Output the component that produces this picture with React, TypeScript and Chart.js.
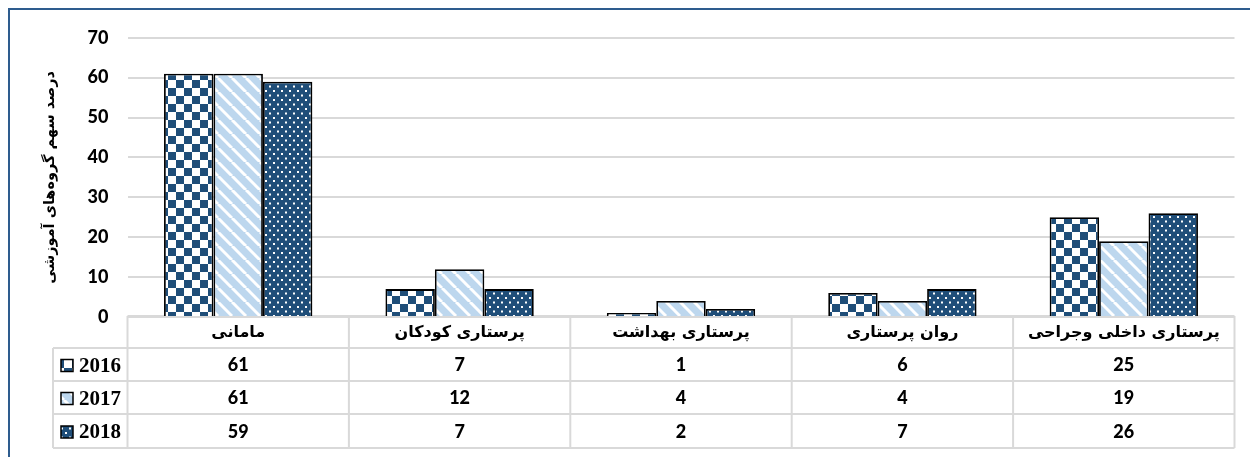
import React, { useEffect, useRef } from "react";
import { Chart, registerables } from "chart.js";

Chart.register(...registerables);

const categories = ["مامانی", "پرستاری کودکان", "پرستاری بهداشت", "روان پرستاری", "پرستاری داخلی وجراحی"];
const seriesNames = ["2016", "2017", "2018"];
const values2016 = [61, 7, 1, 6, 25];
const values2017 = [61, 12, 4, 4, 19];
const values2018 = [59, 7, 2, 7, 26];
const yTicks = [0, 10, 20, 30, 40, 50, 60, 70];
const yTitle = "درصد سهم گروه‌های آموزشی";

const NAVY = "#1F4E79";
const LIGHT = "#BDD7EE";

function makePattern(kind: string): CanvasPattern | string {
  const c = document.createElement("canvas");
  const ctx = c.getContext("2d");
  if (!ctx) return NAVY;
  if (kind === "check") {
    c.width = 16; c.height = 16;
    ctx.fillStyle = "#fff"; ctx.fillRect(0, 0, 16, 16);
    ctx.fillStyle = NAVY; ctx.fillRect(0, 0, 8, 8); ctx.fillRect(8, 8, 8, 8);
  } else if (kind === "stripe") {
    c.width = 14; c.height = 14;
    ctx.fillStyle = LIGHT; ctx.fillRect(0, 0, 14, 14);
    ctx.strokeStyle = "#fff"; ctx.lineWidth = 3;
    for (const o of [-14, 0, 14]) {
      ctx.beginPath(); ctx.moveTo(o, 0); ctx.lineTo(o + 14, 14); ctx.stroke();
    }
  } else {
    c.width = 8; c.height = 9;
    ctx.fillStyle = NAVY; ctx.fillRect(0, 0, 8, 9);
    ctx.fillStyle = "#fff"; ctx.fillRect(1, 1, 2, 2); ctx.fillRect(5, 5.5, 2, 2);
  }
  return ctx.createPattern(c, "repeat") || NAVY;
}

export default function App() {
  const ref = useRef<HTMLCanvasElement>(null);
  useEffect(() => {
    document.body.style.overflow = "hidden";
    const canvas = ref.current;
    if (!canvas) return;
    const pats = [makePattern("check"), makePattern("stripe"), makePattern("dots")];
    const seriesValues = [values2016, values2017, values2018];

    const tableTop = 308;
    const rowH = [32, 33, 33, 34];
    const legendLeft = 45;
    const gridColor = "#D9D9D9";
    const numFont = "900 18px Lato";

    const tablePlugin = {
      id: "tablePlugin",
      beforeDatasetsDraw(chart: any) {
        const ctx = chart.ctx;
        const area = chart.chartArea;
        const left = area.left, right = area.right;
        const n = categories.length;
        const w = (right - left) / n;
        const ys = [tableTop];
        rowH.forEach((h) => ys.push(ys[ys.length - 1] + h));
        ctx.save();
        ctx.strokeStyle = gridColor;
        ctx.lineWidth = 2;
        ctx.beginPath();
        ctx.moveTo(left, ys[0]); ctx.lineTo(right, ys[0]);
        for (let i = 1; i < ys.length; i++) {
          ctx.moveTo(legendLeft, ys[i]); ctx.lineTo(right, ys[i]);
        }
        for (let i = 0; i <= n; i++) {
          ctx.moveTo(left + i * w, ys[0]); ctx.lineTo(left + i * w, ys[ys.length - 1]);
        }
        ctx.moveTo(legendLeft, ys[1]); ctx.lineTo(legendLeft, ys[ys.length - 1]);
        ctx.stroke();
        ctx.restore();
      },
      afterDraw(chart: any) {
        const ctx = chart.ctx;
        const area = chart.chartArea;
        const x = chart.scales.x;
        const ys = [tableTop];
        rowH.forEach((h) => ys.push(ys[ys.length - 1] + h));
        ctx.save();
        ctx.fillStyle = "#000";
        ctx.textAlign = "center";
        ctx.textBaseline = "middle";
        ctx.font = "bold 16px 'DejaVu Sans'";
        categories.forEach((c, i) => {
          ctx.fillText(c, x.getPixelForValue(i), (ys[0] + ys[1]) / 2 + 1);
        });
        ctx.font = numFont;
        seriesValues.forEach((vals, r) => {
          const cy = (ys[r + 1] + ys[r + 2]) / 2 + 1;
          vals.forEach((v, i) => ctx.fillText(String(v), x.getPixelForValue(i), cy));
          const kx = 53, ks = 12;
          ctx.fillStyle = pats[r];
          ctx.fillRect(kx, cy - ks / 2, ks, ks);
          ctx.strokeStyle = "#000"; ctx.lineWidth = 1.5;
          ctx.strokeRect(kx, cy - ks / 2, ks, ks);
          ctx.fillStyle = "#000";
          ctx.textAlign = "left";
          ctx.font = "bold 21px 'Liberation Serif'";
          ctx.fillText(seriesNames[r], 71, cy + 1);
          ctx.textAlign = "center";
          ctx.font = numFont;
        });
        ctx.save();
        ctx.translate(42, (area.top + area.bottom) / 2);
        ctx.rotate(-Math.PI / 2);
        ctx.font = "bold 14.5px 'DejaVu Sans'";
        ctx.fillText(yTitle, 0, 0);
        ctx.restore();
        ctx.strokeStyle = "#2E5C8E";
        ctx.lineWidth = 2;
        ctx.beginPath();
        ctx.moveTo(1, chart.height); ctx.lineTo(1, 1); ctx.lineTo(chart.width, 1);
        ctx.stroke();
        ctx.restore();
      },
    };

    const chart = new Chart(canvas, {
      type: "bar",
      data: {
        labels: categories,
        datasets: seriesNames.map((name, i) => ({
          label: name,
          data: seriesValues[i],
          backgroundColor: pats[i] as any,
          borderColor: "#000",
          borderWidth: 1.8,
          barPercentage: 1,
          categoryPercentage: 0.67,
        })),
      },
      options: {
        responsive: false,
        animation: false,
        layout: { padding: { left: 0, right: 23.5, top: 29, bottom: 140 } },
        plugins: { legend: { display: false }, tooltip: { enabled: false }, title: { display: false } },
        scales: {
          x: { display: false },
          y: {
            min: 0,
            max: 70,
            afterBuildTicks: (s: any) => { s.ticks = yTicks.map((v) => ({ value: v })); },
            afterFit: (s: any) => { s.width = 119.5; },
            border: { display: false },
            grid: { color: gridColor, lineWidth: 2, drawTicks: false },
            ticks: { padding: 19, color: "#000", font: { family: "Lato", weight: "900", size: 18 } },
          },
        },
      },
      plugins: [tablePlugin],
    });
    return () => chart.destroy();
  }, []);
  return (
    <div style={{ width: 1250, height: 449 }}>
      <canvas ref={ref} width={1250} height={449} style={{ display: "block" }} />
    </div>
  );
}
